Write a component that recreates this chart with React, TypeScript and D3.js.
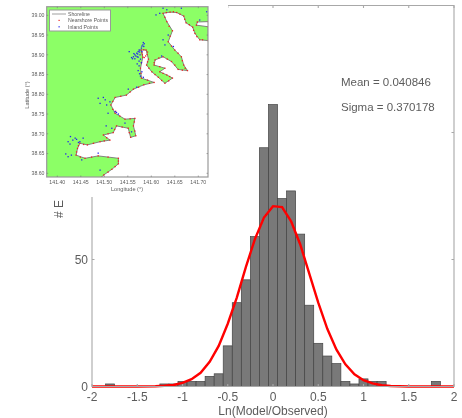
import * as d3 from 'd3';
import React, { useEffect, useRef } from 'react';

const width = 462;
const height = 418;

// histogram of Ln(Model/Observed)
const binCenters = [-1.8, -1.2, -1.1, -1.0, -0.9, -0.8, -0.7, -0.6, -0.5, -0.4, -0.3, -0.2, -0.1, 0, 0.1, 0.2, 0.3, 0.4, 0.5, 0.6, 0.7, 0.8, 0.9, 1.0, 1.1, 1.2, 1.8];
const binCounts = [1, 1, 1, 2, 2, 2, 4, 5, 16, 33, 42, 59, 94, 111, 74, 77, 60, 32, 17, 12, 9, 2, 1, 3, 2, 2, 2];
const binWidth = 0.1;

// fitted red curve
const curveX = [-2, -1.5, -1.3, -1.2, -1.1, -1.0, -0.9, -0.8, -0.7, -0.6, -0.5, -0.4, -0.3, -0.2, -0.1, 0, 0.1, 0.2, 0.3, 0.4, 0.5, 0.6, 0.7, 0.8, 0.9, 1.0, 1.1, 1.2, 1.3, 1.5, 2];
const curveY = [0, 0, 0.1, 0.3, 0.6, 1.4, 2.9, 5.4, 9.7, 16, 24.7, 35, 47, 58, 66.5, 71, 70.6, 65, 56, 44.5, 33, 22.7, 14.6, 8.7, 4.8, 2.5, 1.2, 0.5, 0.2, 0, 0];

const xTicks = [-2, -1.5, -1, -0.5, 0, 0.5, 1, 1.5, 2];
const yTicks = [0, 50, 100, 150];

const lonTicks = [141.4, 141.45, 141.5, 141.55, 141.6, 141.65, 141.7];
const latTicks = [38.6, 38.65, 38.7, 38.75, 38.8, 38.85, 38.9, 38.95, 39.0];

// coastline as lon/lat, land lies to the left when walking it from the top right corner
const coast: [number, number][] = [
  [141.721, 38.984], [141.698, 38.983], [141.696, 38.975], [141.721, 38.971], [141.721, 38.936],
  [141.703, 38.938], [141.693, 38.954], [141.688, 38.970], [141.674, 38.981], [141.669, 38.998],
  [141.654, 39.007], [141.640, 39.008], [141.625, 39.005], [141.633, 38.984], [141.645, 38.961],
  [141.636, 38.933], [141.650, 38.912], [141.664, 38.895], [141.669, 38.874], [141.677, 38.860],
  [141.657, 38.863], [141.643, 38.883], [141.625, 38.895], [141.608, 38.887], [141.606, 38.874],
  [141.629, 38.866], [141.618, 38.857], [141.633, 38.849], [141.645, 38.841], [141.629, 38.828],
  [141.615, 38.843], [141.601, 38.857], [141.590, 38.874], [141.594, 38.889], [141.589, 38.912],
  [141.579, 38.912], [141.582, 38.894], [141.577, 38.866], [141.579, 38.841], [141.606, 38.830],
  [141.584, 38.824], [141.562, 38.813], [141.547, 38.798], [141.523, 38.792], [141.514, 38.773],
  [141.523, 38.752], [141.544, 38.737], [141.565, 38.739], [141.562, 38.720], [141.567, 38.695],
  [141.556, 38.691], [141.551, 38.714], [141.526, 38.720], [141.519, 38.703], [141.498, 38.697],
  [141.512, 38.684], [141.491, 38.680], [141.464, 38.672], [141.448, 38.676], [141.443, 38.663],
  [141.440, 38.646], [141.459, 38.638], [141.487, 38.644], [141.530, 38.638], [141.530, 38.624],
  [141.516, 38.610], [141.499, 38.596], [141.494, 38.590],
];

// more red points between the coast vertices
const nearshorePoints: [number, number][] = [
  [141.709, 38.938], [141.697, 38.946], [141.690, 38.962], [141.681, 38.976], [141.671, 38.990],
  [141.661, 39.003], [141.647, 39.009], [141.632, 39.007], [141.629, 38.995], [141.638, 38.972],
  [141.640, 38.947], [141.643, 38.922], [141.657, 38.904], [141.666, 38.885], [141.672, 38.866],
  [141.666, 38.861], [141.650, 38.874], [141.634, 38.889], [141.616, 38.892], [141.606, 38.880],
  [141.618, 38.870], [141.625, 38.853], [141.639, 38.845], [141.637, 38.834], [141.622, 38.835],
  [141.608, 38.850], [141.595, 38.866], [141.592, 38.882], [141.591, 38.901], [141.592, 38.907],
  [141.584, 38.913], [141.580, 38.905], [141.581, 38.900], [141.585, 38.893], [141.588, 38.897],
  [141.579, 38.880], [141.578, 38.853], [141.592, 38.836], [141.596, 38.828], [141.573, 38.818],
  [141.555, 38.806], [141.535, 38.795], [141.518, 38.782], [141.518, 38.762], [141.524, 38.757],
  [141.533, 38.745], [141.555, 38.738], [141.564, 38.730], [141.565, 38.707], [141.553, 38.703],
  [141.538, 38.717], [141.522, 38.711], [141.508, 38.700], [141.505, 38.690], [141.500, 38.682],
  [141.477, 38.676], [141.456, 38.673], [141.445, 38.670], [141.441, 38.654], [141.449, 38.641],
  [141.473, 38.641], [141.508, 38.641], [141.530, 38.631], [141.523, 38.617], [141.508, 38.603],
];

const inlandPoints: [number, number][] = [
  [141.583, 38.931], [141.582, 38.925], [141.584, 38.921], [141.579, 38.917], [141.576, 38.912],
  [141.572, 38.908], [141.569, 38.904], [141.565, 38.900], [141.562, 38.895], [141.560, 38.890],
  [141.565, 38.890], [141.570, 38.895], [141.576, 38.900], [141.572, 38.894], [141.577, 38.889],
  [141.553, 38.908], [141.579, 38.880], [141.574, 38.872], [141.572, 38.860], [141.577, 38.846],
  [141.583, 38.843], [141.625, 39.018], [141.633, 39.014], [141.610, 39.001], [141.618, 39.005],
  [141.664, 39.018], [141.703, 38.988], [141.718, 39.009], [141.636, 38.950], [141.625, 38.938],
  [141.647, 38.921], [141.629, 38.925], [141.622, 38.897], [141.487, 38.790], [141.498, 38.792],
  [141.502, 38.786], [141.491, 38.777], [141.505, 38.773], [141.512, 38.781], [141.551, 38.813],
  [141.569, 38.818], [141.508, 38.752], [141.523, 38.756], [141.526, 38.754], [141.530, 38.750],
  [141.504, 38.720], [141.516, 38.714], [141.544, 38.727], [141.558, 38.705], [141.428, 38.693],
  [141.438, 38.689], [141.441, 38.686], [141.433, 38.684], [141.423, 38.680], [141.427, 38.674],
  [141.445, 38.678], [141.448, 38.680], [141.455, 38.689], [141.418, 38.649], [141.423, 38.642],
  [141.430, 38.646], [141.452, 38.634], [141.487, 38.651], [141.491, 38.608], [141.585, 38.928],
  [141.580, 38.922], [141.574, 38.912], [141.567, 38.897], [141.563, 38.903], [141.571, 38.902],
  [141.575, 38.907], [141.580, 38.908], [141.558, 38.893], [141.574, 38.884], [141.570, 38.877],
  [141.575, 38.852], [141.580, 38.857],
];

const INK = '#5c5c5c';
const FONT = 'Liberation Sans, Arial, sans-serif';

export default function App() {
  const svgRef = useRef<SVGSVGElement>(null);

  useEffect(() => {
    const svg = d3.select(svgRef.current);
    svg.selectAll('*').remove();

    const defs = svg.append('defs');
    defs.append('filter').attr('id', 'soft').append('feGaussianBlur').attr('stdDeviation', 0.5);
    defs.append('filter').attr('id', 'softer').append('feGaussianBlur').attr('stdDeviation', 0.6);

    svg.append('rect').attr('width', width).attr('height', height).attr('fill', '#fff');
    const root = svg.append('g').attr('filter', 'url(#soft)').attr('font-family', FONT);
    root.append('rect').attr('width', width).attr('height', height).attr('fill', '#fff');

    // main histogram
    const x = d3.scaleLinear().domain([-2, 2]).range([92, 454]);
    const y = d3.scaleLinear().domain([0, 150]).range([386.5, 5.5]);

    root.append('g').selectAll('rect')
      .data(binCenters)
      .enter()
      .append('rect')
      .attr('x', d => x(d - binWidth / 2))
      .attr('width', x(binWidth) - x(0))
      .attr('y', (d, i) => y(binCounts[i]))
      .attr('height', (d, i) => y(0) - y(binCounts[i]))
      .attr('fill', '#797979')
      .attr('stroke', '#444')
      .attr('stroke-width', 0.7);

    const line = d3.line<number>()
      .x(d => x(d))
      .y((d, i) => y(curveY[i]));

    root.append('path')
      .datum(curveX)
      .attr('fill', 'none')
      .attr('stroke', '#f00')
      .attr('stroke-width', 2.4)
      .attr('d', line);

    const frame = root.append('g').attr('stroke', '#a8a8a8').attr('stroke-width', 1.1).attr('fill', 'none');
    frame.append('path').attr('d', `M${x(-2)},${y(150)}H${x(2)}V${y(0)}H${x(-2)}V${y(150)}`);
    xTicks.forEach(t => {
      frame.append('path').attr('d', `M${x(t)},${y(0)}v-2.5M${x(t)},${y(150)}v2.5`);
    });
    yTicks.forEach(t => {
      frame.append('path').attr('d', `M${x(-2)},${y(t)}h2.5M${x(2)},${y(t)}h-2.5`);
    });

    root.append('g').selectAll('text')
      .data(xTicks)
      .enter()
      .append('text')
      .attr('x', d => x(d))
      .attr('y', 401)
      .attr('text-anchor', 'middle')
      .attr('font-size', 12)
      .attr('fill', INK)
      .text(d => d);

    root.append('g').selectAll('text')
      .data(yTicks.slice(0, 2))
      .enter()
      .append('text')
      .attr('x', 88)
      .attr('y', d => y(d) + 4.5)
      .attr('text-anchor', 'end')
      .attr('font-size', 12)
      .attr('fill', INK)
      .text(d => d);

    root.append('text')
      .attr('x', 273).attr('y', 415)
      .attr('text-anchor', 'middle').attr('font-size', 12).attr('fill', INK)
      .text('Ln(Model/Observed)');

    root.append('text')
      .attr('transform', 'translate(63,218) rotate(-90)')
      .attr('font-size', 12).attr('fill', INK)
      .text('# E');

    root.append('text')
      .attr('x', 341).attr('y', 86)
      .attr('font-size', 11.5).attr('fill', INK)
      .text('Mean = 0.040846');
    root.append('text')
      .attr('x', 341).attr('y', 111)
      .attr('font-size', 11.5).attr('fill', INK)
      .text('Sigma = 0.370178');

    // inset map, its white backing hides the corner of the main axes
    const inset = svg.append('g').attr('filter', 'url(#softer)').attr('font-family', FONT);
    inset.append('rect').attr('x', 0).attr('y', 0).attr('width', 228).attr('height', 197).attr('fill', '#fff');

    const lon = d3.scaleLinear().domain([141.4, 141.7]).range([57.3, 198.3]);
    const lat = d3.scaleLinear().domain([38.6, 39.0]).range([173.3, 15.3]);
    const mapLeft = 46.7, mapRight = 208, mapTop = 6.7, mapBottom = 177;

    inset.append('clipPath').attr('id', 'mapClip')
      .append('rect').attr('x', mapLeft).attr('y', mapTop)
      .attr('width', mapRight - mapLeft).attr('height', mapBottom - mapTop);

    const map = inset.append('g').attr('clip-path', 'url(#mapClip)');
    const coastLine = d3.line<[number, number]>().x(d => lon(d[0])).y(d => lat(d[1]));
    const landPath = `M${mapLeft},${mapTop}L${mapRight},${mapTop}L${(coastLine(coast) as string).slice(1)}L${mapLeft},${mapBottom}Z`;

    map.append('path').attr('d', landPath).attr('fill', '#8cff66');
    map.append('path').datum(coast).attr('d', coastLine).attr('fill', 'none')
      .attr('stroke', '#777').attr('stroke-width', 0.9);

    map.append('g').selectAll('rect')
      .data(coast.concat(nearshorePoints))
      .enter()
      .append('rect')
      .attr('x', d => lon(d[0]) - 0.65)
      .attr('y', d => lat(d[1]) - 0.65)
      .attr('width', 1.3)
      .attr('height', 1.3)
      .attr('fill', '#e22');

    map.append('g').selectAll('rect')
      .data(inlandPoints)
      .enter()
      .append('rect')
      .attr('x', d => lon(d[0]) - 0.65)
      .attr('y', d => lat(d[1]) - 0.65)
      .attr('width', 1.3)
      .attr('height', 1.3)
      .attr('fill', '#22e');

    inset.append('rect')
      .attr('x', mapLeft).attr('y', mapTop)
      .attr('width', mapRight - mapLeft).attr('height', mapBottom - mapTop)
      .attr('fill', 'none').attr('stroke', '#999').attr('stroke-width', 1.2);

    lonTicks.forEach(t => {
      inset.append('path').attr('d', `M${lon(t)},${mapBottom}v-1.5M${lon(t)},${mapTop}v1.5`).attr('stroke', '#777').attr('stroke-width', 0.6);
      inset.append('text').attr('x', lon(t)).attr('y', 184).attr('text-anchor', 'middle')
        .attr('font-size', 5.2).attr('fill', INK).text(t.toFixed(2));
    });
    latTicks.forEach(t => {
      inset.append('path').attr('d', `M${mapLeft},${lat(t)}h1.5M${mapRight},${lat(t)}h-1.5`).attr('stroke', '#777').attr('stroke-width', 0.6);
      inset.append('text').attr('x', 44.5).attr('y', lat(t) + 1.8).attr('text-anchor', 'end')
        .attr('font-size', 5.2).attr('fill', INK).text(t.toFixed(2));
    });

    inset.append('text').attr('x', 127).attr('y', 190.5).attr('text-anchor', 'middle')
      .attr('font-size', 5.6).attr('fill', INK).text('Longitude (°)');
    inset.append('text').attr('transform', 'translate(29,95) rotate(-90)').attr('text-anchor', 'middle')
      .attr('font-size', 5.6).attr('fill', INK).text('Latitude (°)');

    // legend
    const legend = inset.append('g');
    legend.append('rect').attr('x', 49.5).attr('y', 10).attr('width', 61).attr('height', 21)
      .attr('fill', '#fff').attr('stroke', '#999').attr('stroke-width', 1);
    const legendNames = ['Shoreline', 'Nearshore Points', 'Inland Points'];
    const legendColors = ['#777', '#e22', '#22e'];
    legendNames.forEach((name, i) => {
      const ly = 14 + i * 6.4;
      if (i === 0) {
        legend.append('path').attr('d', `M52,${ly}h14`).attr('stroke', legendColors[i]).attr('stroke-width', 0.7);
      } else {
        legend.append('rect').attr('x', 58.5).attr('y', ly - 0.6).attr('width', 1.2).attr('height', 1.2).attr('fill', legendColors[i]);
      }
      legend.append('text').attr('x', 68).attr('y', ly + 1.8).attr('font-size', 5.2).attr('fill', INK).text(name);
    });
  }, []);

  return (
    <svg
      ref={svgRef}
      width={width}
      height={height}
      style={{ position: 'absolute', left: 0, top: 0 }}
    />
  );
}
